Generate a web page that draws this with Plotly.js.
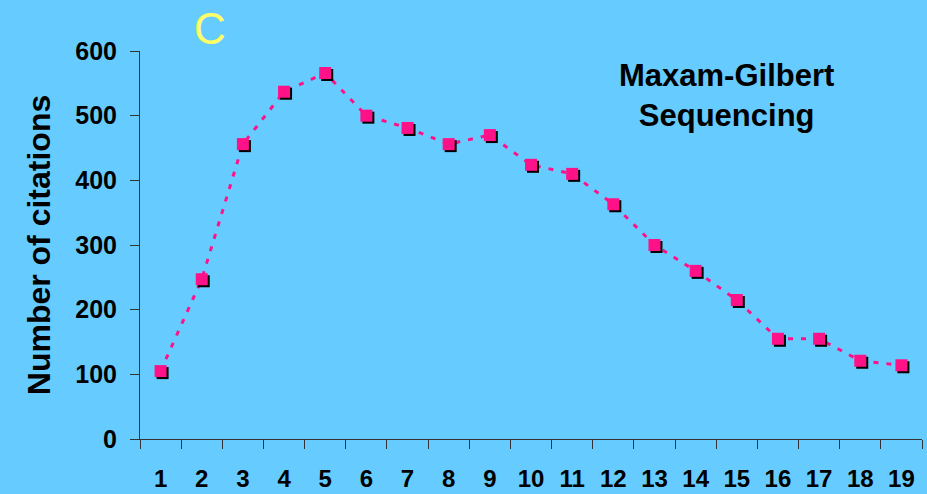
<!DOCTYPE html>
<html>
<head>
<meta charset="utf-8">
<script src="https://cdn.plot.ly/plotly-3.0.1.min.js"></script>
<style>
html,body{margin:0;padding:0;background:#66CCFF;}
#chart{width:927px;height:494px;}
.scatterlayer .points path{filter:drop-shadow(2px 2px 0 #000);}
</style>
</head>
<body>
<div id="chart"></div>
<script>
const categories = ['1','2','3','4','5','6','7','8','9','10','11','12','13','14','15','16','17','18','19'];
const citations = [105, 247, 456, 537, 566, 500, 481, 456, 470, 424, 410, 363, 300, 260, 215, 155, 155, 121, 114];
const yTicks = [0, 100, 200, 300, 400, 500, 600];

const FONT = 'Liberation Sans, Arial, sans-serif';

const trace = {
  x: categories,
  y: citations,
  type: 'scatter',
  mode: 'lines+markers',
  line: {color: '#FF1188', width: 3, dash: '5px,8px'},
  marker: {symbol: 'square', size: 12, color: '#FF1188'},
  cliponaxis: false,
  hoverinfo: 'skip'
};

const layout = {
  width: 927, height: 494,
  paper_bgcolor: '#66CCFF',
  plot_bgcolor: '#66CCFF',
  margin: {l: 140, r: 5, t: 51, b: 55},
  showlegend: false,
  font: {family: FONT, color: '#000'},
  xaxis: {
    type: 'category',
    range: [-0.5, categories.length - 0.5],
    tickson: 'boundaries',
    ticks: 'outside', ticklen: 9, tickcolor: '#333', tickwidth: 1,
    showline: true, linecolor: '#333', linewidth: 1,
    showgrid: false, zeroline: false,
    tickfont: {size: 24, family: FONT, weight: 'bold'},
    ticklabelstandoff: 18
  },
  yaxis: {
    range: [0, 600],
    tickvals: yTicks,
    ticktext: yTicks.map(String),
    ticks: 'outside', ticklen: 9, tickcolor: '#333', tickwidth: 1,
    showline: true, linecolor: '#333', linewidth: 1,
    showgrid: false, zeroline: false,
    tickfont: {size: 25, family: FONT, weight: 'bold'},
    ticklabelstandoff: 8,
    title: {text: '<b>Number of citations</b>', font: {size: 32, family: FONT}, standoff: 15}
  },
  annotations: [
    {text: 'C', xref: 'paper', yref: 'paper', x: (210-140)/782, y: 1 + (51-29)/388, showarrow: false,
     font: {size: 44, color: '#FFFF66', family: FONT}, xanchor: 'center', yanchor: 'middle'},
    {text: '<b>Maxam-Gilbert<br>Sequencing</b>', xref: 'paper', yref: 'paper', x: (726-140)/782, y: (439-95)/388, showarrow: false,
     font: {size: 31, color: '#000', family: FONT}, xanchor: 'center', yanchor: 'middle', align: 'center'}
  ]
};

Plotly.newPlot('chart', [trace], layout, {displayModeBar: false, staticPlot: true});
</script>
</body>
</html>
